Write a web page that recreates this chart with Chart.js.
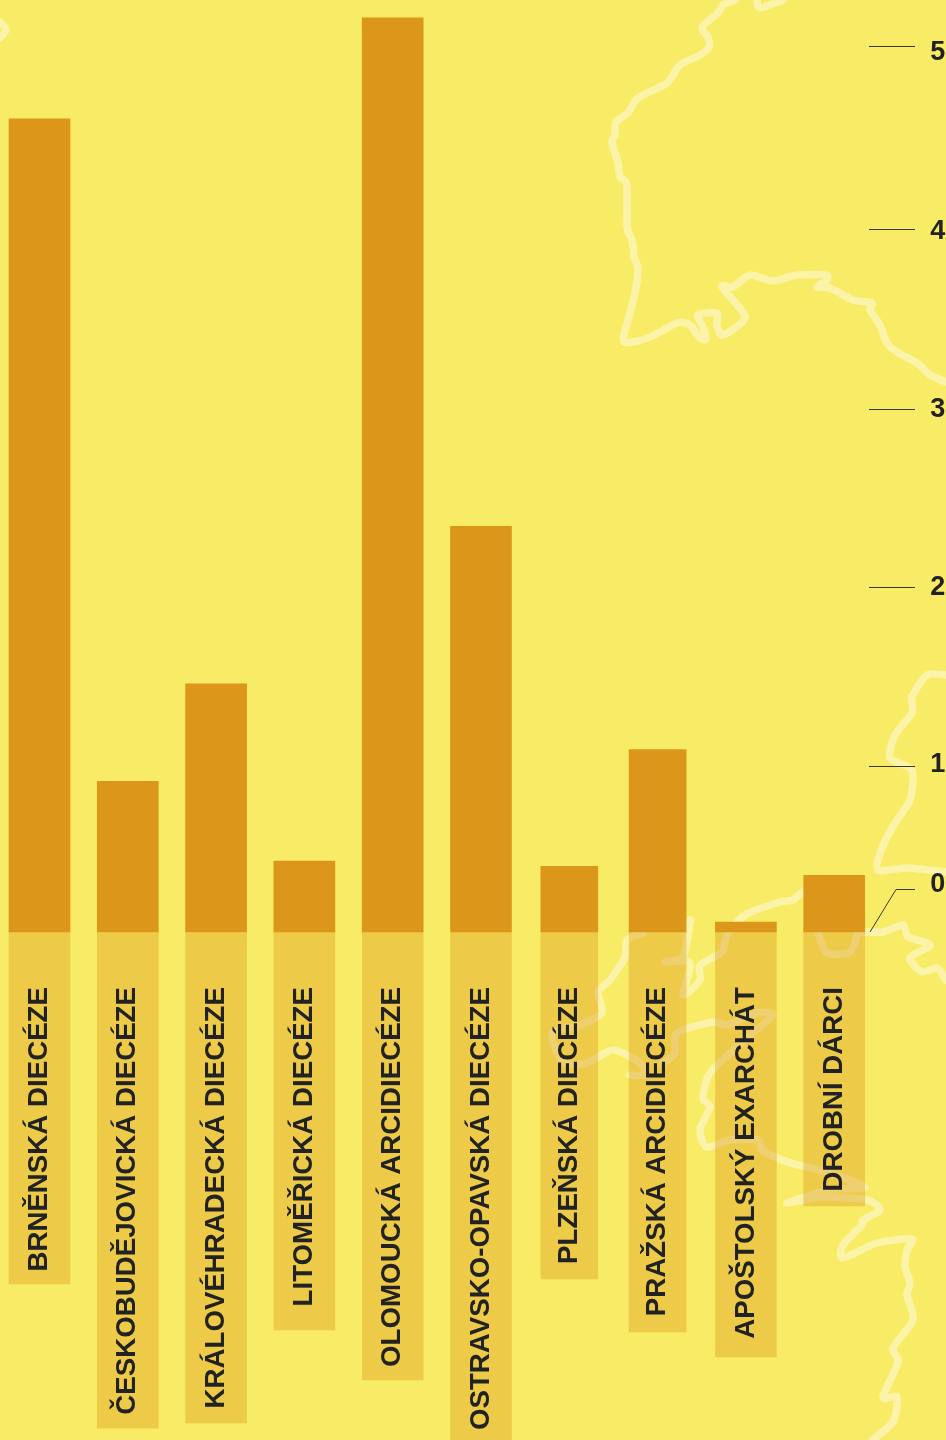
<!DOCTYPE html>
<html lang="cs">
<head>
<meta charset="utf-8">
<title>Diecéze</title>
<script src="https://cdn.jsdelivr.net/npm/chart.js@4/dist/chart.umd.min.js"></script>
<style>
html,body{margin:0;padding:0;background:#F8EC66;overflow:hidden}
canvas{display:block}
</style>
</head>
<body>
<canvas id="c" width="946" height="1440"></canvas>
<script>
const categories = ["BRNĚNSKÁ DIECÉZE","ČESKOBUDĚJOVICKÁ DIECÉZE","KRÁLOVÉHRADECKÁ DIECÉZE","LITOMĚŘICKÁ DIECÉZE","OLOMOUCKÁ ARCIDIECÉZE","OSTRAVSKO-OPAVSKÁ DIECÉZE","PLZEŇSKÁ DIECÉZE","PRAŽSKÁ ARCIDIECÉZE","APOŠTOLSKÝ EXARCHÁT","DROBNÍ DÁRCI"];
const values = [4.59,0.85,1.40,0.40,5.16,2.29,0.37,1.03,0.056,0.32];
const labelBands = [-1.986,-2.80,-2.771,-2.246,-2.528,-2.95,-1.958,-2.257,-2.398,-1.546];
const narrowCategories = ["PLZEŇSKÁ DIECÉZE","PRAŽSKÁ ARCIDIECÉZE"];
const tickLabels = ["0","1","2","3","4","5"];
const tickLabelValues = [0.27,0.943,1.946,2.951,3.955,4.965];
const tickMarkValues = [0.243,0.937,1.946,2.951,3.967,5.0];

const isNarrow = i => narrowCategories.includes(categories[i]);
const pick = (arr, narrow) => arr.map((v, i) => isNarrow(i) === narrow ? v : null);

const mapPaths = [
 [[735,0],[723,5],[718,13],[702,27],[708,37],[709,47],[700,55],[680,65],[667,83],[638,98],[628,113],[616,122],[615,135],[612,142],[618,163],[620,177],[627,185],[627,227],[632,240],[634,257],[638,268],[635,293],[628,320],[624,342],[648,338],[677,323],[690,325],[700,338],[706,339],[703,327],[698,315],[717,313],[717,325],[723,335],[745,317],[722,287],[733,287],[750,275],[773,281],[797,275],[825,275],[827,280],[817,287],[830,288],[853,300],[872,303],[870,310],[880,325],[887,343],[897,352],[917,363],[930,375],[946,382]],
 [[757,0],[760,8],[783,0]],
 [[0,22],[6,30],[0,38]],
 [[946,675],[927,675],[912,697],[912,713],[895,735],[890,758],[912,770],[910,800],[895,823],[882,848],[878,870],[907,868],[946,872]],
 [[690,920],[690,923],[683,957],[665,962],[690,963],[683,995],[700,980],[700,965],[722,952],[727,935],[745,915],[780,902],[793,900],[804,892],[812,910],[818,933],[827,953],[850,952],[858,933],[865,932],[883,932],[903,925],[908,937],[930,945],[910,958],[922,972],[937,968],[946,980]],
 [[643,933],[627,940],[625,957],[610,980],[598,992],[602,1013],[580,1025],[552,1033],[563,1062],[587,1063],[613,1050],[640,1063],[645,1075],[630,1075]],
 [[663,1063],[675,1053],[677,1033],[713,1022],[727,1025],[757,1013],[773,1015],[753,1033],[737,1047],[710,1073],[703,1098],[710,1107],[700,1130],[707,1147],[730,1140],[758,1140],[762,1150],[787,1162],[830,1173],[865,1187],[830,1190],[787,1203],[823,1197],[867,1200],[880,1210],[863,1220],[862,1225],[843,1245],[843,1258],[877,1243],[912,1239],[907,1250],[905,1267],[910,1283],[907,1295],[913,1320],[893,1348],[898,1362],[883,1397],[897,1397],[893,1422],[872,1440]]
];

const backdrop = {
  id: 'backdrop',
  afterLayout(chart) {
    const s = chart.scales.x;
    s.left = -4.65; s.right = 878.35; s.width = 883;
    s.configure();
  },
  beforeDraw(chart) {
    const ctx = chart.ctx;
    ctx.save();
    ctx.fillStyle = '#F8EC66';
    ctx.fillRect(0, 0, chart.width, chart.height);
    ctx.strokeStyle = '#FAF3A8';
    ctx.lineWidth = 7.5;
    ctx.lineJoin = 'round';
    ctx.lineCap = 'round';
    mapPaths.forEach(p => {
      ctx.beginPath();
      ctx.moveTo(p[0][0], p[0][1]);
      for (let i = 0; i < p.length - 1; i++) {
        const a = p[Math.max(i - 1, 0)], b = p[i], c = p[i + 1], d = p[Math.min(i + 2, p.length - 1)];
        ctx.bezierCurveTo(b[0] + (c[0] - a[0]) / 8, b[1] + (c[1] - a[1]) / 8,
                          c[0] - (d[0] - b[0]) / 8, c[1] - (d[1] - b[1]) / 8, c[0], c[1]);
      }
      ctx.stroke();
    });
    ctx.restore();
  }
};

const tickMarks = {
  id: 'tickMarks',
  afterDraw(chart) {
    const ctx = chart.ctx, y = chart.scales.y;
    ctx.save();
    ctx.strokeStyle = '#3a3a2a';
    ctx.lineWidth = 1;
    tickMarkValues.forEach((v, i) => {
      const py = Math.round(y.getPixelForValue(v)) + 0.5;
      ctx.beginPath();
      ctx.moveTo(915, py);
      if (i === 0) {
        ctx.lineTo(896, py);
        ctx.lineTo(870, y.getPixelForValue(0));
      } else {
        ctx.lineTo(869, py);
      }
      ctx.stroke();
    });
    ctx.restore();
  }
};

new Chart(document.getElementById('c'), {
  type: 'bar',
  data: {
    labels: categories,
    datasets: [
      {label:'Dary', data: pick(values,false), backgroundColor:'#DC971B', barThickness:61, borderWidth:0},
      {label:'Dary', data: pick(values,true), backgroundColor:'#DC971B', barThickness:57, borderWidth:0},
      {label:'Popisek', data: pick(labelBands,false), backgroundColor:'rgba(220,151,27,0.39)', barThickness:61, borderWidth:0},
      {label:'Popisek', data: pick(labelBands,true), backgroundColor:'rgba(220,151,27,0.39)', barThickness:57, borderWidth:0}
    ]
  },
  options: {
    responsive: false,
    animation: false,
    plugins: {legend: {display: false}, tooltip: {enabled: false}},
    scales: {
      x: {
        stacked: true,
        position: {y: 0},
        grid: {display: false, drawTicks: false},
        border: {display: false},
        ticks: {
          z: 1,
          autoSkip: false, minRotation: 90, maxRotation: 90, padding: 55,
          color: '#222222',
          font: {family: '"Liberation Sans", Arial, sans-serif', size: 27.7, weight: 'bold'}
        },
        afterFit(s) { s.height = 0; s.paddingLeft = 0; s.paddingRight = 0; s.paddingTop = 0; s.paddingBottom = 0; }
      },
      y: {
        stacked: true,
        position: 'right',
        min: -2.867,
        max: 5.26,
        grid: {display: false, drawTicks: false},
        border: {display: false},
        afterBuildTicks(s) { s.ticks = tickLabelValues.map(value => ({value})); },
        ticks: {
          padding: 52,
          color: '#222222',
          font: {family: '"Liberation Sans", Arial, sans-serif', size: 27, weight: 'bold'},
          callback: (v, i) => tickLabels[i]
        },
        afterFit(s) { s.width = 67.65; s.paddingTop = 0; s.paddingBottom = 0; s.paddingLeft = 0; s.paddingRight = 0; }
      }
    }
  },
  plugins: [backdrop, tickMarks]
});
</script>
</body>
</html>
